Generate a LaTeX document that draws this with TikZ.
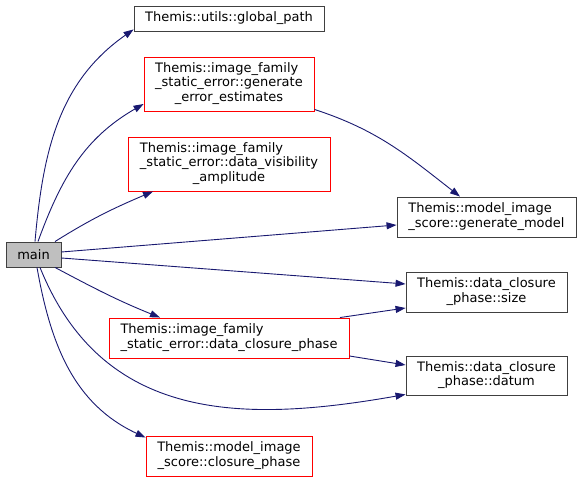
\documentclass[tikz,border=0pt]{standalone}
\usepackage{fontspec}
\setmainfont{DejaVu Sans}
\usetikzlibrary{arrows.meta}
\definecolor{edgeblue}{HTML}{191970}
\definecolor{boxgray}{HTML}{404040}
\definecolor{maingray}{HTML}{BFBFBF}
% two-part function name: left lines, last line centred
\newcommand{\fn}[2]{\begin{tabular}{@{}l@{}}#1\\\multicolumn{1}{@{}c@{}}{#2}\end{tabular}}
\tikzset{
  fnode/.style={shape=rectangle, draw=boxgray, line width=0.9pt, inner sep=0pt,
    font=\fontsize{13}{14.3}\selectfont},
  trunc/.style={fnode, draw=red},
  call/.style={color=edgeblue, line width=0.9pt, -{Triangle[length=10pt,width=7pt]}}
}
\begin{document}
\begin{tikzpicture}[x=1pt,y=1pt]
            \useasboundingbox (0,0) rectangle (581,481);
            % functions
            \node[fnode,fill=maingray,minimum width=55pt,minimum height=25pt] (main) at (33.5,226.5) {main};
            \node[fnode,minimum width=190pt,minimum height=25pt] (gpath) at (229,462.5) {Themis::utils::global\_path};
            \node[trunc,minimum width=170pt,minimum height=54pt] (errest) at (229,397) {\fn{Themis::image\_family\\\_static\_error::generate}{\_error\_estimates}};
            \node[trunc,minimum width=202pt,minimum height=54pt] (visamp) at (229,317) {\fn{Themis::image\_family\\\_static\_error::data\_visibility}{\_amplitude}};
            \node[fnode,minimum width=179pt,minimum height=40pt] (genmodel) at (486.5,264) {\fn{Themis::model\_image}{\_score::generate\_model}};
            \node[fnode,minimum width=161pt,minimum height=40pt] (cpsize) at (486.5,189) {\fn{Themis::data\_closure}{\_phase::size}};
            \node[trunc,minimum width=240pt,minimum height=40pt] (dcphase) at (229,143) {\fn{Themis::image\_family}{\_static\_error::data\_closure\_phase}};
            \node[fnode,minimum width=161pt,minimum height=39pt] (cpdatum) at (486.5,105.5) {\fn{Themis::data\_closure}{\_phase::datum}};
            \node[trunc,minimum width=166pt,minimum height=40pt] (clphase) at (229,25) {\fn{Themis::model\_image}{\_score::closure\_phase}};

            % calls
            \path[call] ([xshift=1.5pt]main.north) edge[out=85,in=215] ([yshift=2pt]gpath.south west);
            \path[call] ([xshift=4.5pt]main.north) edge[out=70,in=210] ([yshift=-20pt]errest.west);
            \path[call] ([xshift=21.5pt]main.north) edge[out=32,in=203] ([xshift=-76pt]visamp.south);
            \path[call] ([yshift=2.5pt]main.east) edge ([yshift=-8pt]genmodel.west);
            \path[call] ([yshift=2pt]errest.south east) edge[out=-18,in=142] ([xshift=-26.5pt]genmodel.north);
            \path[call] ([yshift=-3.5pt]main.east) edge ([yshift=8pt]cpsize.west);
            \path[call] ([xshift=21.5pt]main.south) edge[out=-28,in=158] ([xshift=-69pt]dcphase.north);
            \path[call] ([xshift=111pt]dcphase.north) edge ([yshift=-16pt]cpsize.west);
            \path[call] ([yshift=-18pt]dcphase.east) edge ([yshift=10.5pt]cpdatum.west);
            \path[call] ([xshift=6.5pt]main.south) edge[out=-68,in=190,looseness=1.1] ([yshift=1pt]cpdatum.south west);
            \path[call] ([xshift=3.5pt]main.south) edge[out=-80,in=155] ([yshift=-2pt]clphase.north west);
        \end{tikzpicture}
\end{document}
